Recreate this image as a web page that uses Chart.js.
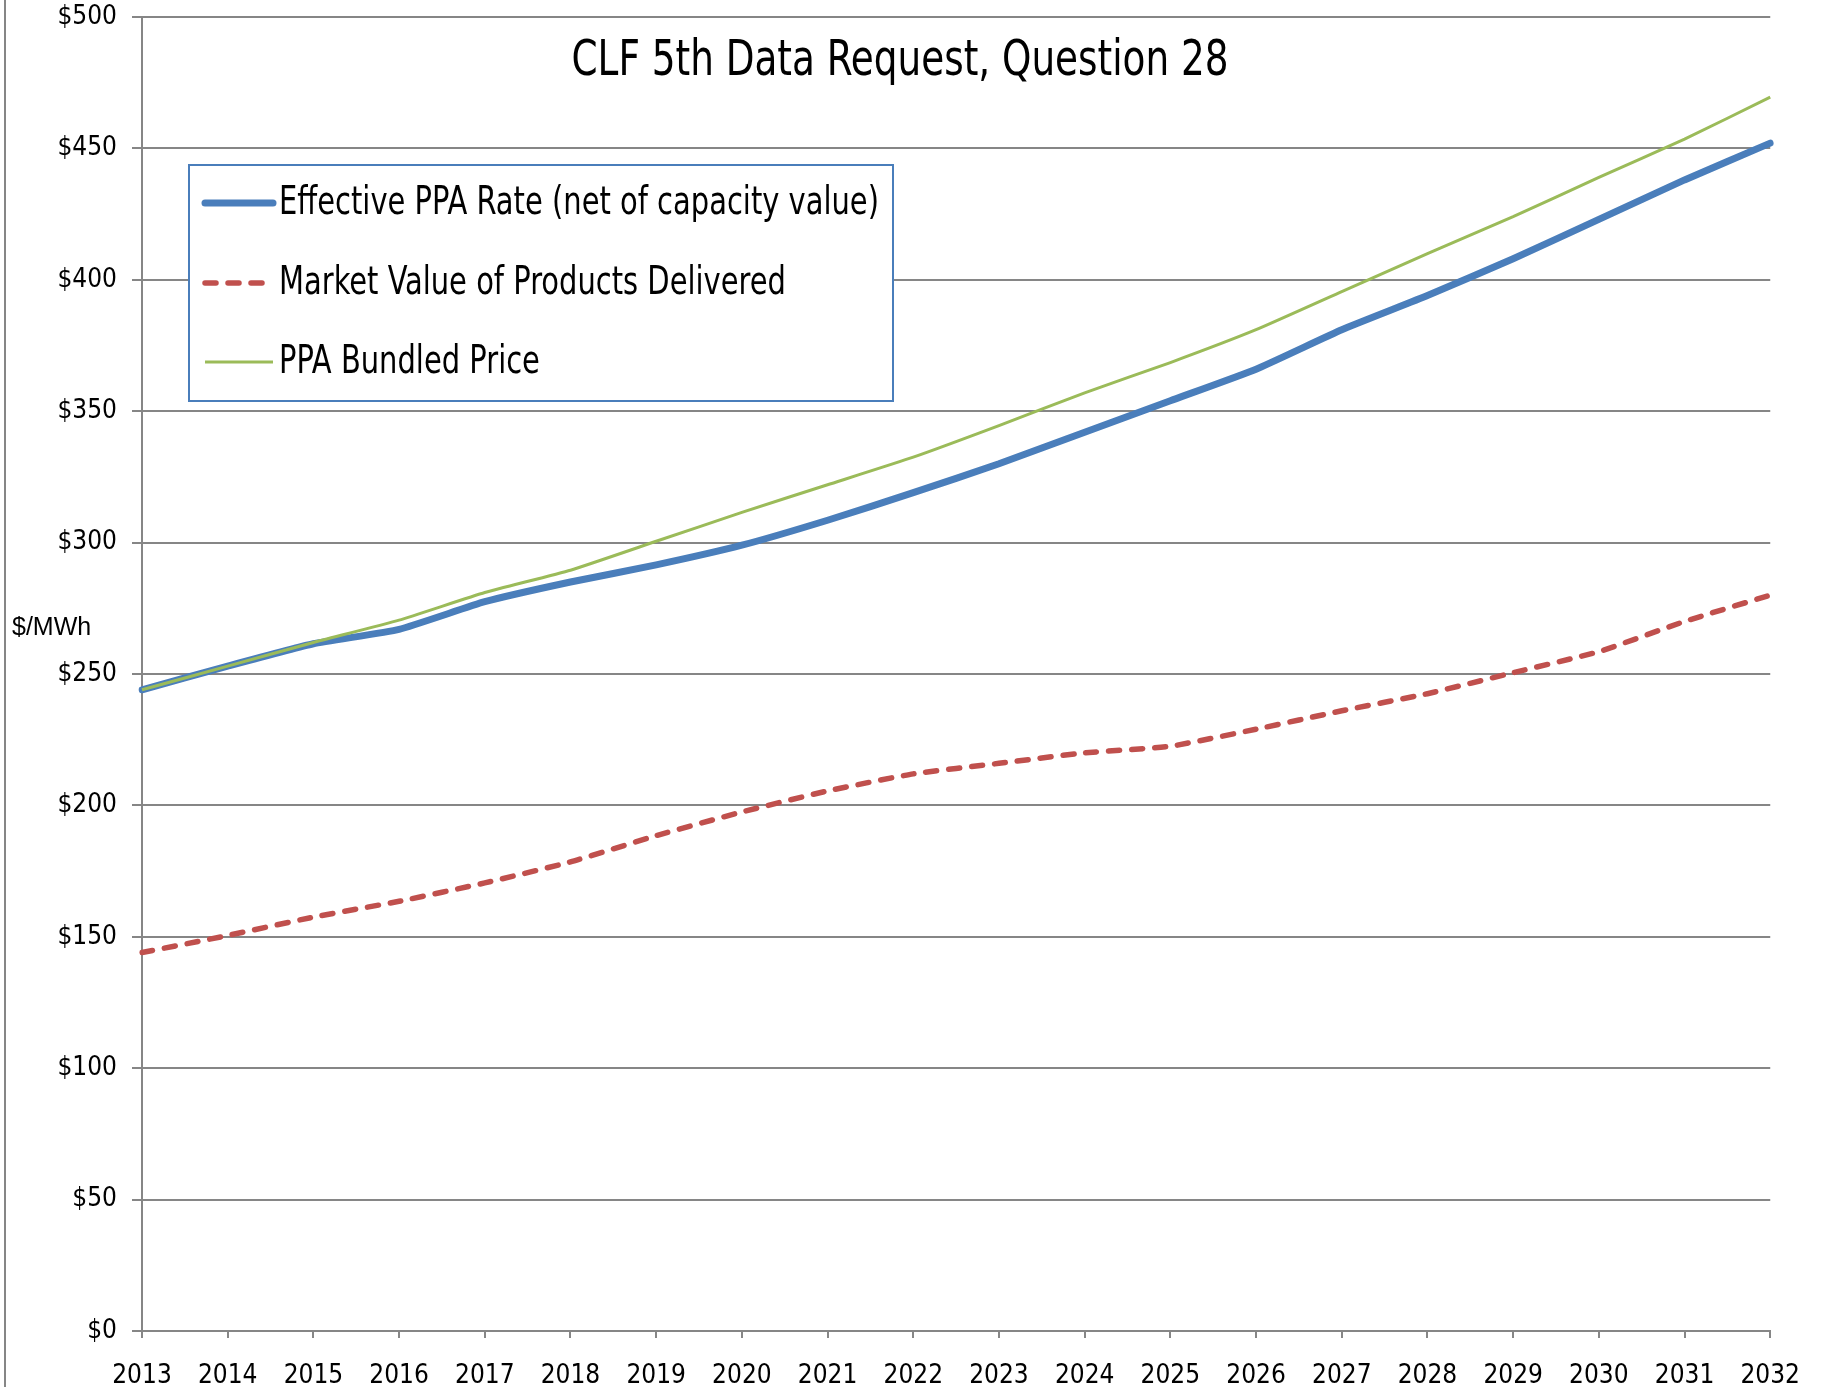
<!DOCTYPE html>
<html>
<head>
<meta charset="utf-8">
<script src="https://cdn.jsdelivr.net/npm/chart.js@4/dist/chart.umd.min.js"></script>
<style>
  html, body { margin: 0; padding: 0; background: #fff; }
  canvas { display: block; }
</style>
</head>
<body>
<canvas id="chart" width="1823" height="1387"></canvas>
<script>
const years = ["2013", "2014", "2015", "2016", "2017", "2018", "2019", "2020", "2021", "2022",
  "2023", "2024", "2025", "2026", "2027", "2028", "2029", "2030", "2031", "2032"];
const effectiveRate = [244, 253, 261.5, 267, 277.5, 285, 291.5, 299, 308.5, 319,
  330, 342, 354, 366, 381, 394, 408, 423, 438, 452];
const marketValue = [144, 150.5, 157.5, 163.5, 170.5, 178.5, 188.5, 197.5, 205.5, 212,
  216, 220, 222.5, 229, 236, 242.5, 250.5, 258.5, 270, 280];
const bundledPrice = [244, 253, 262, 270.5, 281, 289.5, 300.5, 311.5, 322, 332.5,
  344.5, 357, 368.5, 381, 395.5, 410, 424, 439, 453.5, 469.5];
const seriesNames = ["Effective PPA Rate (net of capacity value)", "Market Value of Products Delivered", "PPA Bundled Price"];
const chartTitle = "CLF 5th Data Request, Question 28";
const axisTitle = "$/MWh";

const NARROW = "'Liberation Sans Narrow', 'DejaVu Sans Condensed', 'Arial Narrow', sans-serif";
const GRID = "#868686";

// draws text squeezed horizontally so the narrow look of the original is kept
function squeezedText(ctx, text, x, y, sx) {
  ctx.save();
  ctx.translate(x, y);
  ctx.scale(sx, 1);
  ctx.fillText(text, 0, 0);
  ctx.restore();
}

// title, axis title, in-plot legend and the outer frame edge
const overlay = {
  id: "overlay",
  afterDraw(chart) {
    const ctx = chart.ctx;
    ctx.save();

    ctx.strokeStyle = GRID;
    ctx.lineWidth = 2;
    ctx.beginPath();
    ctx.moveTo(5, 0);
    ctx.lineTo(5, chart.height);
    ctx.stroke();

    ctx.fillStyle = "#000";
    ctx.textBaseline = "middle";
    ctx.textAlign = "left";
    ctx.font = `49px ${NARROW}`;
    const tw = ctx.measureText(chartTitle).width;
    const tsx = Math.min(1, 657 / tw);
    squeezedText(ctx, chartTitle, 900 - (tw * tsx) / 2, 62, tsx);

    ctx.font = "25px 'Liberation Sans', Arial, sans-serif";
    ctx.fillText(axisTitle, 12, 628);

    // legend box
    const box = { x: 189, y: 165, w: 704, h: 236 };
    ctx.fillStyle = "#fff";
    ctx.fillRect(box.x, box.y, box.w, box.h);
    ctx.strokeStyle = "#4a7ebb";
    ctx.lineWidth = 2;
    ctx.strokeRect(box.x, box.y, box.w, box.h);

    const rows = [203, 283, 362];
    ctx.font = `39px ${NARROW}`;
    const lsx = Math.min(1, 600 / ctx.measureText(seriesNames[0]).width);
    chart.data.datasets.forEach((ds, i) => {
      const y = rows[i];
      ctx.strokeStyle = ds.borderColor;
      ctx.lineWidth = ds.borderWidth;
      ctx.lineCap = ds.borderCapStyle || "butt";
      ctx.setLineDash(ds.borderDash || []);
      ctx.beginPath();
      ctx.moveTo(205, y);
      ctx.lineTo(273, y);
      ctx.stroke();
      ctx.setLineDash([]);
      ctx.fillStyle = "#000";
      squeezedText(ctx, ds.label, 279, y + 1, lsx);
    });
    ctx.restore();
  },
};

Chart.defaults.font.family = NARROW;
Chart.defaults.color = "#000";

new Chart(document.getElementById("chart"), {
  type: "line",
  data: {
    labels: years,
    datasets: [
      {
        label: seriesNames[0],
        data: effectiveRate,
        borderColor: "#4a7ebb",
        borderWidth: 7,
        borderCapStyle: "round",
        tension: 0.15,
        order: 3,
      },
      {
        label: seriesNames[1],
        data: marketValue,
        borderColor: "#c0504d",
        borderWidth: 5.5,
        borderDash: [11, 12],
        borderCapStyle: "round",
        tension: 0.15,
        order: 2,
      },
      {
        label: seriesNames[2],
        data: bundledPrice,
        borderColor: "#9bbb59",
        borderWidth: 3,
        tension: 0.15,
        order: 1,
      },
    ],
  },
  options: {
    responsive: false,
    animation: false,
    devicePixelRatio: 1,
    layout: { padding: { left: 0, right: 52, top: 17, bottom: 0 } },
    elements: { point: { radius: 0 } },
    plugins: {
      legend: { display: false },
      title: { display: false },
      tooltip: { enabled: false },
    },
    scales: {
      x: {
        offset: false,
        afterFit: (scale) => { scale.height = 56; },
        grid: { drawOnChartArea: false, drawTicks: true, tickLength: 7, color: GRID, lineWidth: 2 },
        border: { color: GRID, width: 2 },
        ticks: { autoSkip: false, maxRotation: 0, padding: 23, font: { size: 26 } },
      },
      y: {
        min: 0,
        max: 500,
        afterFit: (scale) => {
          scale.width = 142;
          scale.paddingTop = 0;
          scale.paddingBottom = 0;
        },
        grid: { color: GRID, lineWidth: 2, tickLength: 10 },
        border: { color: GRID, width: 2 },
        ticks: { stepSize: 50, padding: 15, font: { size: 26 }, callback: (v) => "$" + v },
      },
    },
  },
  plugins: [overlay],
});
</script>
</body>
</html>
